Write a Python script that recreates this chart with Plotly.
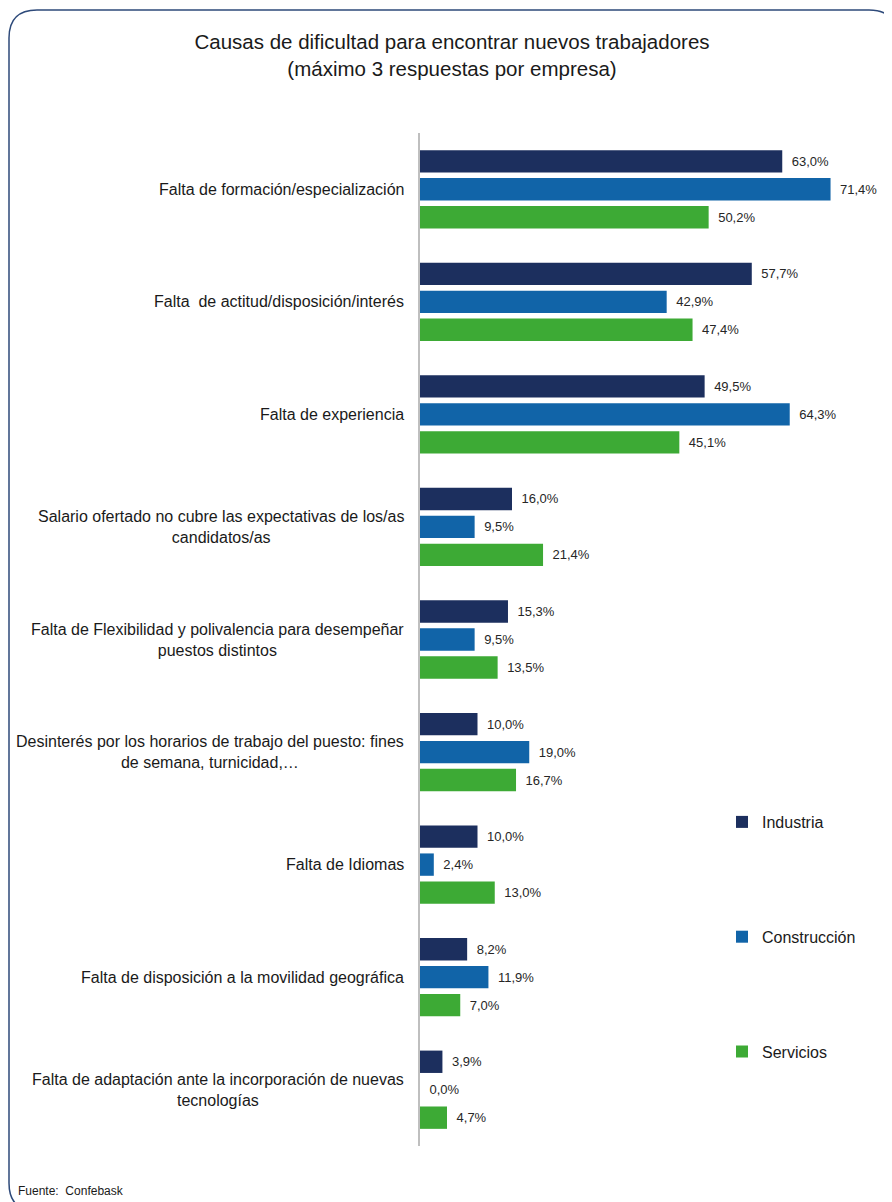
import plotly.graph_objects as go

categories = [
    "Falta de formación/especialización",
    "Falta  de actitud/disposición/interés",
    "Falta de experiencia",
    "Salario ofertado no cubre las expectativas de los/as candidatos/as",
    "Falta de Flexibilidad y polivalencia para desempeñar puestos distintos",
    "Desinterés por los horarios de trabajo del puesto: fines de semana, turnicidad,…",
    "Falta de Idiomas",
    "Falta de disposición a la movilidad geográfica",
    "Falta de adaptación ante la incorporación de nuevas tecnologías",
]
category_labels = [
    "Falta de formación/especialización",
    "Falta  de actitud/disposición/interés",
    "Falta de experiencia",
    "Salario ofertado no cubre las expectativas de los/as<br>candidatos/as",
    "Falta de Flexibilidad y polivalencia para desempeñar<br>puestos distintos",
    "Desinterés por los horarios de trabajo del puesto: fines<br>de semana, turnicidad,…",
    "Falta de Idiomas",
    "Falta de disposición a la movilidad geográfica",
    "Falta de adaptación ante la incorporación de nuevas<br>tecnologías",
]
industria = [63.0, 57.7, 49.5, 16.0, 15.3, 10.0, 10.0, 8.2, 3.9]
construccion = [71.4, 42.9, 64.3, 9.5, 9.5, 19.0, 2.4, 11.9, 0.0]
servicios = [50.2, 47.4, 45.1, 21.4, 13.5, 16.7, 13.0, 7.0, 4.7]
series_names = ["Industria", "Construcción", "Servicios"]
colors = ["#1C2F5E", "#1164A8", "#3DAA35"]

FONT = "Liberation Sans, Arial, sans-serif"

OFF = 8  # page body margin
W, H = 892 - OFF, 1202 - OFF
ML, MR, MT, MB = 420 - OFF, 0, 133 - OFF, 1202 - 1146
PW, PH = W - ML - MR, H - MT - MB
PLOT_W = 460  # width of the bar area in pixels


def px2paper(x, y):
    return (x - OFF - ML) / PW, 1 - (y - OFF - MT) / PH


def fmt(v):
    return f"{v:.1f}%".replace(".", ",")


fig = go.Figure()
for i, (name, vals) in enumerate(zip(series_names, [industria, construccion, servicios])):
    fig.add_trace(go.Bar(
        y=categories, x=vals, orientation="h", name=name,
        marker=dict(color=colors[i], line=dict(width=0)),
        text=[fmt(v) for v in vals], textposition="outside",
        texttemplate="\u2002%{text}",
        textfont=dict(family=FONT, size=13, color="#262626"),
        cliponaxis=False, legendgroup=name,
    ))

annotations = []
lx, _ = px2paper(406, 0)
for cat, lab in zip(categories, category_labels):
    annotations.append(dict(
        x=lx, xref="paper", y=cat, yref="y", text=lab, showarrow=False,
        xanchor="right", yanchor="middle", align="center",
        font=dict(family=FONT, size=16, color="#1a1a1a"),
    ))
fx, fy = px2paper(16, 1191)
annotations.append(dict(
    x=fx, xref="paper", y=fy, yref="paper", text="Fuente:  Confebask", showarrow=False,
    xanchor="left", yanchor="middle", font=dict(family=FONT, size=12, color="#1a1a1a"),
))

# rounded frame
x0, y0 = px2paper(9, 10)
x1, y1 = px2paper(897, 1211)
rx = 28 / PW
ry = 28 / PH
path = (f"M {x0},{y0 - ry} Q {x0},{y0} {x0 + rx},{y0} L {x1 - rx},{y0} Q {x1},{y0} {x1},{y0 - ry} "
        f"L {x1},{y1 + ry} Q {x1},{y1} {x1 - rx},{y1} L {x0 + rx},{y1} Q {x0},{y1} {x0},{y1 + ry} Z")

lgx, lgy = px2paper(722, 805)

fig.update_layout(
    width=W, height=H,
    margin=dict(l=ML, r=MR, t=MT, b=MB, autoexpand=False),
    paper_bgcolor="white", plot_bgcolor="white",
    title=dict(
        text="Causas de dificultad para encontrar nuevos trabajadores<br>(máximo 3 respuestas por empresa)",
        x=(452 - OFF) / W, xanchor="center", y=1 - 41 / H, yanchor="top", yref="container",
        font=dict(family=FONT, size=20.5, color="#1a1a1a"),
    ),
    barmode="group", bargap=0.255, bargroupgap=0.2,
    xaxis=dict(range=[0, 80], domain=[0, PLOT_W / PW], visible=False, fixedrange=True),
    yaxis=dict(autorange="reversed", showticklabels=False, ticks="", showgrid=False,
               showline=True, linecolor="#BFBFBF", linewidth=1.5, zeroline=False),
    showlegend=True,
    legend=dict(x=lgx, y=lgy, xanchor="left", yanchor="top", tracegroupgap=91,
                font=dict(family=FONT, size=16, color="#1a1a1a"),
                bgcolor="rgba(0,0,0,0)", itemwidth=30, traceorder="grouped"),
    annotations=annotations,
    shapes=[dict(type="path", path=path, xref="paper", yref="paper",
                 line=dict(color="#2E4A7A", width=1.5), layer="below")],
)

fig.write_html("out.html")
